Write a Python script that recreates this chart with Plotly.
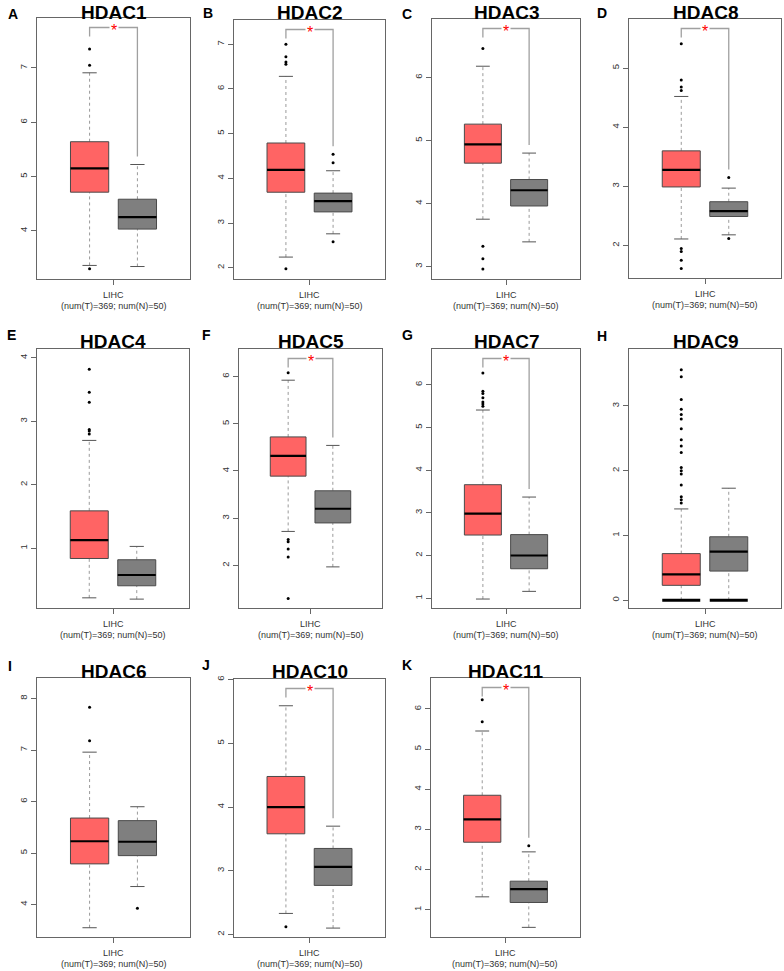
import plotly.graph_objects as go

# ---------------- data ----------------
genes = ["HDAC1", "HDAC2", "HDAC3", "HDAC8", "HDAC4", "HDAC5",
         "HDAC7", "HDAC9", "HDAC6", "HDAC10", "HDAC11"]
letters = ["A", "B", "C", "D", "E", "F", "G", "H", "I", "J", "K"]
category_name = "LIHC"
category_counts = "(num(T)=369; num(N)=50)"

# tumour (T) box statistics
tumor_q1 = [4.71, 3.69, 4.64, 2.99, 0.84, 3.89, 2.48, 0.23, 4.79, 3.58, 2.68]
tumor_median = [5.15, 4.19, 4.94, 3.28, 1.13, 4.32, 2.98, 0.40, 5.23, 4.00, 3.25]
tumor_q3 = [5.64, 4.79, 5.26, 3.60, 1.59, 4.72, 3.66, 0.72, 5.68, 4.48, 3.85]
tumor_low = [3.36, 2.24, 3.75, 2.11, 0.22, 2.72, 0.98, 0.00, 3.55, 2.33, 1.32]
tumor_high = [6.91, 6.28, 6.18, 4.52, 2.70, 5.92, 5.41, 1.41, 6.96, 5.59, 5.45]

# normal (N) box statistics
normal_q1 = [4.03, 3.25, 3.96, 2.49, 0.41, 2.90, 1.69, 0.45, 4.95, 2.77, 1.18]
normal_median = [4.25, 3.49, 4.21, 2.58, 0.58, 3.20, 2.00, 0.75, 5.22, 3.06, 1.51]
normal_q3 = [4.58, 3.67, 4.38, 2.74, 0.82, 3.58, 2.49, 0.98, 5.63, 3.35, 1.71]
normal_low = [3.34, 2.76, 3.39, 2.18, 0.20, 1.97, 1.16, 0.00, 4.35, 2.10, 0.56]
normal_high = [5.22, 4.17, 4.80, 2.97, 1.03, 4.54, 3.37, 1.73, 5.90, 3.70, 2.44]

# readable points outside the whiskers
tumor_outliers = [
    [7.35, 7.05, 3.30],
    [7.00, 6.72, 6.60, 6.55, 1.98],
    [6.46, 3.32, 3.12, 2.96],
    [5.41, 4.80, 4.68, 4.62, 1.95, 1.90, 1.75, 1.61],
    [3.82, 3.46, 3.30, 2.87, 2.85, 2.80],
    [6.08, 2.55, 2.50, 2.35, 2.18, 1.30],
    [6.28, 5.85, 5.80, 5.70, 5.60, 5.55, 5.50],
    [3.56, 3.45, 3.10, 2.95, 2.87, 2.80, 2.65, 2.48, 2.38, 2.28, 2.05,
     2.00, 1.95, 1.78, 1.60, 1.55, 1.50],
    [7.83, 7.18],
    [2.12],
    [6.23, 5.68],
]
normal_outliers = [[], [4.54, 4.35, 2.58], [], [3.15, 2.12], [], [], [], [],
                   [3.93], [], [2.59]]

significant = [True, True, True, True, False, True, True, False, False, True, True]
zero_cluster = [False, False, False, False, False, False, False, True, False, False, False]

# ---------------- layout (pixel geometry in the 784x971 window) ----------------
W, H = 784, 971

panel_px = [  # x0, x1, y0(top), y1(bottom) in window pixels
    (37, 190, 18, 279), (234, 385, 20, 279), (432, 580, 19, 279), (629, 781, 19, 278),
    (37, 189, 349, 608), (239, 382, 349, 608), (432, 580, 349, 608), (629, 781, 349, 608),
    (37, 190, 678, 937), (234, 385, 679, 937), (431, 580, 678, 937),
]
y_ranges = [
    (3.11, 7.92), (1.75, 7.54), (2.80, 6.93), (1.45, 5.83),
    (0.06, 4.14), (1.10, 6.58), (0.77, 6.84), (-0.12, 3.88),
    (3.37, 8.40), (1.96, 6.01), (0.32, 6.77),
]
title_y = [12, 12, 12, 12, 341, 341, 341, 341, 670, 670, 670]
letter_pos = [(12.5, 13), (207.5, 11.5), (407, 12.5), (602, 11.5),
              (11, 334), (207, 334), (407.5, 334), (602, 335),
              (10, 665), (206, 663.5), (407.5, 664)]


def px_x(v):
    return v / W


def px_y(v):
    return 1 - v / H


TUMOR_FILL = "#FF6464"
NORMAL_FILL = "#7F7F7F"
OUTLINE = "#4a4a4a"
FONT = "Liberation Sans, Arial, sans-serif"

X_T, X_N = 0.8125, 1.1875
HALF_BOX = 0.15
HALF_CAP = 0.056

fig = go.Figure()
annotations = []
layout_axes = {}


def draw_group(xr, yr, c, q1, med, q3, lo, hi, fill, outl, zero):
    fig.add_trace(go.Scatter(x=[c, c, None, c, c], y=[q3, hi, None, lo, q1],
                             mode="lines", line=dict(color="#9a9a9a", width=1, dash="dot"),
                             xaxis=xr, yaxis=yr, hoverinfo="skip"))
    fig.add_trace(go.Scatter(x=[c - HALF_BOX, c + HALF_BOX, c + HALF_BOX, c - HALF_BOX, c - HALF_BOX],
                             y=[q1, q1, q3, q3, q1], mode="lines", fill="toself",
                             fillcolor=fill, line=dict(color=OUTLINE, width=1),
                             xaxis=xr, yaxis=yr, hoverinfo="skip"))
    fig.add_trace(go.Scatter(x=[c - HALF_BOX, c + HALF_BOX], y=[med, med], mode="lines",
                             line=dict(color="black", width=2.2),
                             xaxis=xr, yaxis=yr, hoverinfo="skip"))
    fig.add_trace(go.Scatter(x=[c - HALF_CAP, c + HALF_CAP, None, c - HALF_CAP, c + HALF_CAP],
                             y=[hi, hi, None, lo, lo], mode="lines",
                             line=dict(color="#555555", width=1),
                             xaxis=xr, yaxis=yr, hoverinfo="skip"))
    if zero:
        fig.add_trace(go.Scatter(x=[c - HALF_BOX, c + HALF_BOX], y=[lo, lo], mode="lines",
                                 line=dict(color="black", width=3),
                                 xaxis=xr, yaxis=yr, hoverinfo="skip"))
    if outl:
        fig.add_trace(go.Scatter(x=[c] * len(outl), y=outl, mode="markers",
                                 marker=dict(color="black", size=3),
                                 xaxis=xr, yaxis=yr, hoverinfo="skip"))


for i, g in enumerate(genes):
    n = i + 1
    xr = "x" if n == 1 else f"x{n}"
    yr = "y" if n == 1 else f"y{n}"
    x0, x1, y0, y1 = panel_px[i]
    r0, r1 = y_ranges[i]
    layout_axes["xaxis" if n == 1 else f"xaxis{n}"] = dict(
        domain=[px_x(x0), px_x(x1)], range=[0.4, 1.6], anchor=yr, automargin=False,
        showline=True, mirror=True, linecolor="#666666", linewidth=1,
        tickmode="array", tickvals=[1], ticktext=[""],
        ticks="outside", ticklen=5, tickcolor="#666666",
        showgrid=False, zeroline=False, fixedrange=True)
    layout_axes["yaxis" if n == 1 else f"yaxis{n}"] = dict(
        domain=[px_y(y1), px_y(y0)], range=[r0, r1], anchor=xr, automargin=False,
        showline=True, mirror=True, linecolor="#666666", linewidth=1,
        tick0=0, dtick=1, ticks="outside", ticklen=5, tickcolor="#666666",
        tickangle=-90, tickfont=dict(size=9.5, color="#333333", family=FONT),
        showgrid=False, zeroline=False, fixedrange=True)

    draw_group(xr, yr, X_T, tumor_q1[i], tumor_median[i], tumor_q3[i],
               tumor_low[i], tumor_high[i], TUMOR_FILL, tumor_outliers[i], zero_cluster[i])
    draw_group(xr, yr, X_N, normal_q1[i], normal_median[i], normal_q3[i],
               normal_low[i], normal_high[i], NORMAL_FILL, normal_outliers[i], zero_cluster[i])

    if significant[i]:
        upp = (r1 - r0) / (y1 - y0)  # data units per pixel
        top = r1 - 9.5 * upp
        t_end = top - 9 * upp
        n_max = max([normal_high[i]] + normal_outliers[i])
        n_end = n_max + 8 * upp
        fig.add_trace(go.Scatter(x=[X_T, X_T, X_N, X_N], y=[t_end, top, top, n_end],
                                 mode="lines", line=dict(color="#a0a0a0", width=1.3),
                                 xaxis=xr, yaxis=yr, hoverinfo="skip"))
        annotations.append(dict(x=1.0, y=top, xref=xr, yref=yr, text="*",
                                showarrow=False, yanchor="middle", yshift=-3,
                                bgcolor="white", borderpad=1,
                                font=dict(size=16, color="#FF0000", family=FONT)))

    cx = px_x((x0 + x1) / 2)
    annotations.append(dict(x=cx, y=px_y(y1 + 16), xref="paper", yref="paper",
                            text=category_name, showarrow=False, xanchor="center", yanchor="middle",
                            font=dict(size=9, color="#333333", family=FONT)))
    annotations.append(dict(x=cx, y=px_y(y1 + 27), xref="paper", yref="paper",
                            text=category_counts, showarrow=False, xanchor="center", yanchor="middle",
                            font=dict(size=9, color="#333333", family=FONT)))
    annotations.append(dict(x=cx, y=px_y(title_y[i] + 1), xref="paper", yref="paper",
                            text=f"<b>{g}</b>", showarrow=False, xanchor="center", yanchor="middle",
                            font=dict(size=19, color="black", family=FONT)))
    lx, ly = letter_pos[i]
    annotations.append(dict(x=px_x(lx), y=px_y(ly + 1), xref="paper", yref="paper",
                            text=f"<b>{letters[i]}</b>", showarrow=False,
                            xanchor="center", yanchor="middle",
                            font=dict(size=14, color="black", family=FONT)))

fig.update_layout(width=W, height=H, margin=dict(l=0, r=0, t=0, b=0),
                  template="none",
                  paper_bgcolor="white", plot_bgcolor="white", showlegend=False,
                  annotations=annotations, **layout_axes)

# remove the browser's default 8px body margin so the figure fills the window
fig.write_html("out.html", config={"displayModeBar": False},
               post_script="document.body.style.margin='0px';document.body.style.overflow='hidden';")
